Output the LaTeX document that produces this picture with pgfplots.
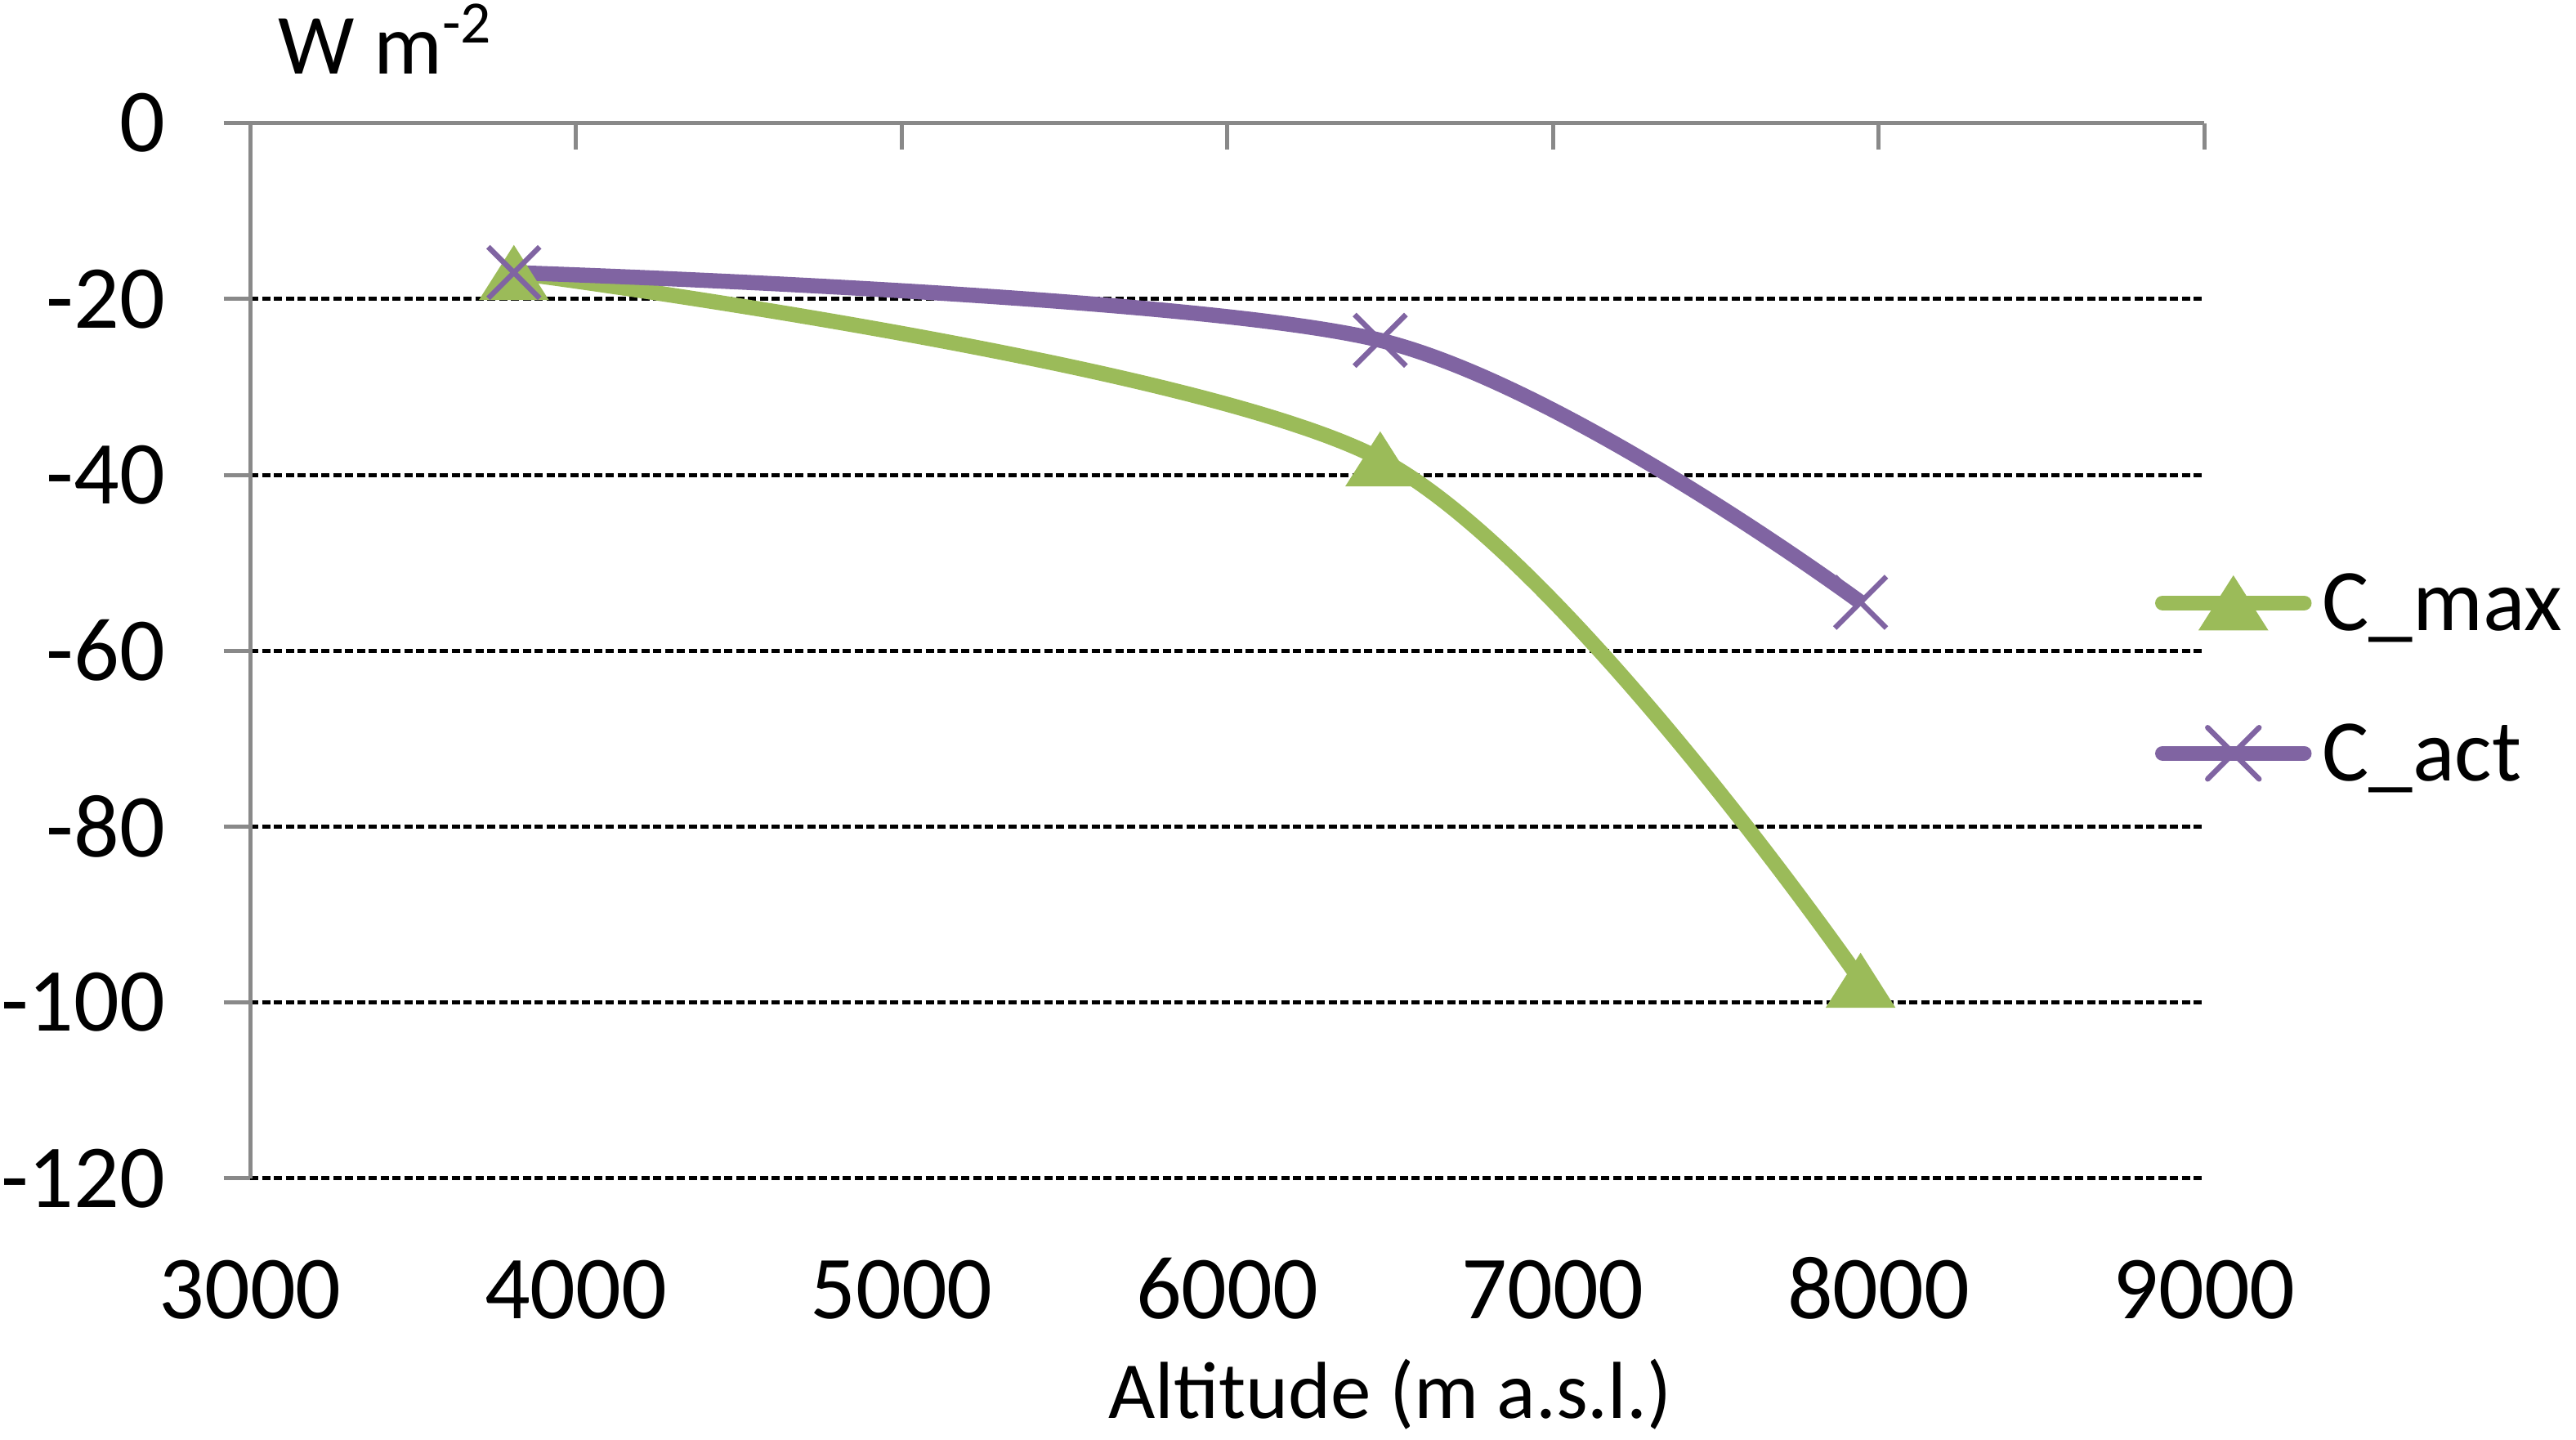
\documentclass[border=0pt]{standalone}
\usepackage{fontspec}
\setmainfont{Carlito}
\usepackage{pgfplots}
\pgfplotsset{compat=1.18}
\definecolor{cgreen}{HTML}{9BBB59}
\definecolor{cpurple}{HTML}{8064A2}
\definecolor{axgray}{HTML}{898989}
\begin{document}
\begin{tikzpicture}
\useasboundingbox (0,0) rectangle (630.4pt,352.4pt);
\begin{axis}[
  at={(61.2pt,64.06pt)}, anchor=south west,
  scale only axis, width=478.2pt, height=258.2pt,
  xmin=3000, xmax=9000, ymin=-120, ymax=0,
  axis x line*=top, axis y line*=left,
  xtick={3000,4000,5000,6000,7000,8000,9000},
  xticklabels={3000,4000,5000,6000,7000,8000,9000},
  ytick={-120,-100,-80,-60,-40,-20,0},
  yticklabels={-120,-100,-80,-60,-40,-20,0},
  axis line style={axgray, line width=1pt},
  tick style={axgray, line width=1pt},
  major tick length=6.5pt,
  tick align=inside,
  ytick style={xshift=-6.5pt},
  ymajorgrids,
  major grid style={black, line width=1pt, dash pattern=on 2pt off 0.9pt},
  xticklabel style={font=\fontsize{22}{26}\selectfont, anchor=base, inner sep=0pt, yshift=-292.5pt},
  yticklabel style={font=\fontsize{22}{26}\selectfont, anchor=east, inner sep=0pt, xshift=-20.6pt},
  xlabel={Altitude (m a.s.l.)},
  ylabel={W m\textsuperscript{-2}},
  every axis x label/.style={at={(rel axis cs:0,0)}, anchor=base, xshift=279pt, yshift=-58.7pt, inner sep=0pt, font=\fontsize{19.8}{24}\selectfont},
  every axis y label/.style={at={(rel axis cs:0,1)}, anchor=base west, xshift=6.6pt, yshift=12.1pt, inner sep=0pt, font=\fontsize{21}{25}\selectfont},
  legend style={draw=none, fill=none, inner sep=0pt, outer sep=0pt,
    at={(rel axis cs:0.9749,0.474)}, anchor=west,
    row sep=23.4pt, column sep=2.6pt,
    font=\fontsize{21.5}{25}\selectfont,
    nodes={inner sep=0pt, anchor=west, text height=13.4pt, text depth=0pt}},
  legend cell align=left,
  legend image code/.code={\draw[#1, line cap=round, mark repeat=2, mark phase=2] plot coordinates {(0pt,0pt) (17.3pt,0pt) (34.6pt,0pt)};},
  clip=false,
]
\addplot[cgreen, line width=3.7pt, smooth, mark=triangle*, mark size=8.5pt,
  mark options={solid, fill=cgreen, draw=cgreen, line width=0.5pt, xscale=1.1, yshift=-2.2pt}]
  coordinates {(3810,-17.0) (6470,-38.2) (7945,-97.5)};
\addlegendentry{C\_max}
\addplot[cpurple, line width=3.7pt, smooth, mark=x, mark size=8.9pt,
  mark options={solid, line width=1.3pt}]
  coordinates {(3810,-17.0) (6470,-24.7) (7945,-54.5)};
\addlegendentry{C\_act}
\end{axis}
\end{tikzpicture}
\end{document}
